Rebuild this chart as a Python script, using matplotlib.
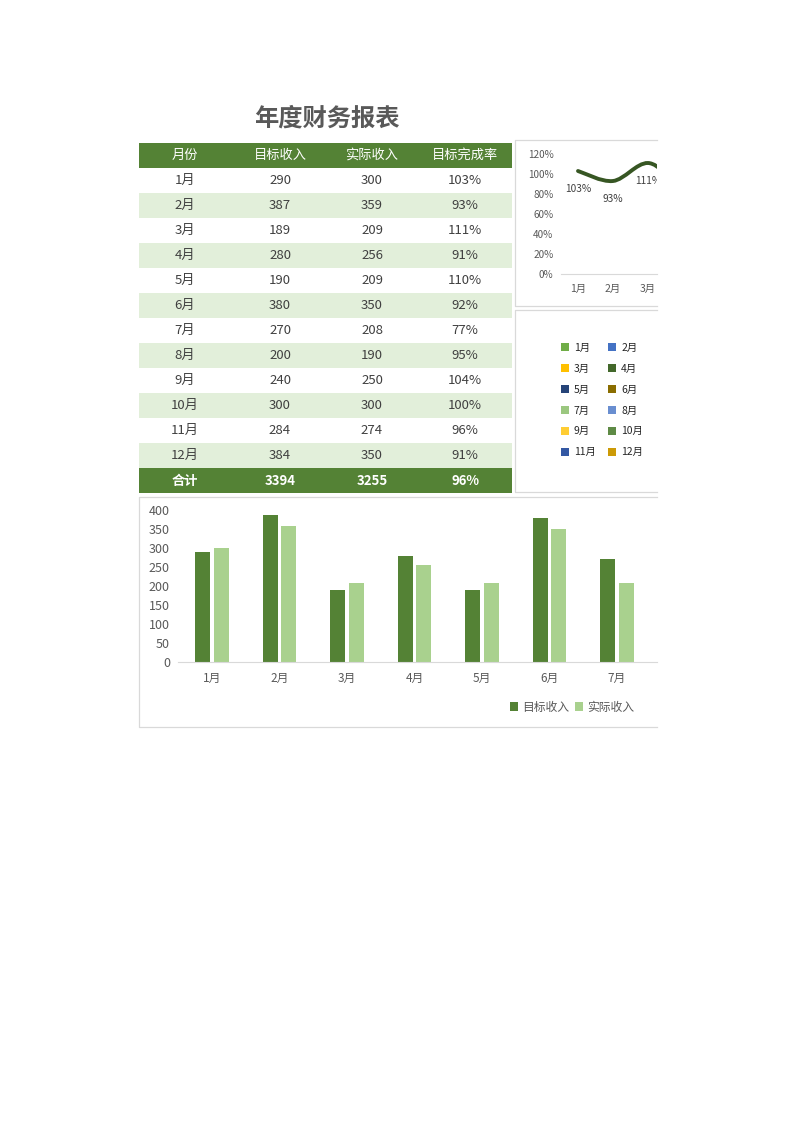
import matplotlib
matplotlib.use('Agg')
import matplotlib.pyplot as plt
from matplotlib.patches import Rectangle, Patch, PathPatch
from matplotlib.path import Path
import numpy as np

plt.rcParams['font.family'] = ['Noto Sans CJK SC', 'DejaVu Sans']

# ---------------- data ----------------
title = '年度财务报表'
header = ['月份', '目标收入', '实际收入', '目标完成率']
months = ['1月', '2月', '3月', '4月', '5月', '6月', '7月', '8月', '9月', '10月', '11月', '12月']
target = [290, 387, 189, 280, 190, 380, 270, 200, 240, 300, 284, 384]
actual = [300, 359, 209, 256, 209, 350, 208, 190, 250, 300, 274, 350]
rate = [103, 93, 111, 91, 110, 92, 77, 95, 104, 100, 96, 91]
total_label = '合计'
total_target = 3394
total_actual = 3255
total_rate = 96
pie_colors = ['#70AD47', '#4472C4', '#FFC000', '#43682B', '#264478', '#8A6D00',
              '#9BC77F', '#698ED0', '#FFCD33', '#5E8A45', '#3358A3', '#CC9A06']
bar_ticks = [0, 50, 100, 150, 200, 250, 300, 350, 400]
line_ticks = [0, 20, 40, 60, 80, 100, 120]

# ---------------- styles ----------------
DARK = '#548235'
LIGHT = '#A9D18E'
ROWFILL = '#E2EFDA'
TXT = '#404040'
AX = '#595959'
BORDER = '#D9D9D9'

W, H = 793, 1122
fig = plt.figure(figsize=(W / 100, H / 100), dpi=100)


def rect(x0, y0, x1, y1):
    return [x0 / W, 1 - y1 / H, (x1 - x0) / W, (y1 - y0) / H]


bg = fig.add_axes([0, 0, 1, 1])
bg.set_xlim(0, W)
bg.set_ylim(H, 0)
bg.axis('off')

# title
bg.text(327, 119, title, ha='center', va='center', fontsize=17.5, fontweight='bold', color=AX)

# table
tx0, tx1 = 139, 512
col_c = [185, 280, 372, 465]
row_h = 25
top = 143
bg.add_patch(Rectangle((tx0, top), tx1 - tx0, row_h, color=DARK, lw=0))
for c, h in zip(col_c, header):
    bg.text(c, top + row_h / 2, h, ha='center', va='center', fontsize=9.5, color='white')
for i, m in enumerate(months):
    y0 = top + row_h * (i + 1)
    if i % 2 == 1:
        bg.add_patch(Rectangle((tx0, y0), tx1 - tx0, row_h, color=ROWFILL, lw=0))
    vals = [m, str(target[i]), str(actual[i]), f'{rate[i]}%']
    for c, v in zip(col_c, vals):
        bg.text(c, y0 + row_h / 2, v, ha='center', va='center', fontsize=9.5, color=TXT)
y0 = top + row_h * (len(months) + 1)
bg.add_patch(Rectangle((tx0, y0), tx1 - tx0, row_h, color=DARK, lw=0))
for c, v in zip(col_c, [total_label, str(total_target), str(total_actual), f'{total_rate}%']):
    bg.text(c, y0 + row_h / 2, v, ha='center', va='center', fontsize=9.5, color='white',
            fontweight='bold')

# chart boxes (clipped at the page edge x=657)
clipx = 657
for (bx0, by0, by1) in [(515, 140, 306), (515, 310, 492), (139, 497, 727)]:
    bg.plot([clipx, bx0, bx0, clipx], [by0, by0, by1, by1], color=BORDER, lw=0.9)

# ---------------- line chart ----------------
step = 35.0
lx_left = 560.5
axl = fig.add_axes(rect(lx_left, 154, clipx, 274))
x = np.arange(len(months))
y = np.array(rate) / 100.0
# smoothed line with Bezier segments built from the data points
verts = [(x[0], y[0])]
codes = [Path.MOVETO]
n = len(x)
for i in range(n - 1):
    p0 = np.array([x[max(i - 1, 0)], y[max(i - 1, 0)]])
    p1 = np.array([x[i], y[i]])
    p2 = np.array([x[i + 1], y[i + 1]])
    p3 = np.array([x[min(i + 2, n - 1)], y[min(i + 2, n - 1)]])
    c1 = p1 + (p2 - p0) / 6.0
    c2 = p2 - (p3 - p1) / 6.0
    verts += [tuple(c1), tuple(c2), tuple(p2)]
    codes += [Path.CURVE4] * 3
axl.add_patch(PathPatch(Path(verts, codes), facecolor='none', edgecolor='#375623',
                        lw=2.8, capstyle='round'))
for xi, yi, r in zip(x, y, rate):
    axl.annotate(f'{r}%', (xi, yi), xytext=(0, -13), textcoords='offset points',
                 ha='center', va='center', fontsize=7.3, color=TXT, clip_on=True)
axl.set_yticks([t / 100 for t in line_ticks])
axl.set_yticklabels([f'{t}%' for t in line_ticks])
axl.set_xticks(x)
axl.set_xticklabels(months)
axl.set_xlim(-0.5, -0.5 + (clipx - lx_left) / step)
axl.set_ylim(0, 1.2)
axl.tick_params(axis='y', length=0, pad=5, labelsize=7.2, labelcolor=AX)
axl.tick_params(axis='x', length=0, pad=7, labelsize=7.5, labelcolor=AX)
for s in ['top', 'right', 'left']:
    axl.spines[s].set_visible(False)
axl.spines['bottom'].set_color(BORDER)
axl.patch.set_alpha(0)

# ---------------- pie legend ----------------
handles = [Patch(facecolor=c, edgecolor='none') for c in pie_colors]
order = list(range(0, 12, 2)) + list(range(1, 12, 2))
fig.legend([handles[i] for i in order], [months[i] for i in order], ncol=2,
           loc='center', bbox_to_anchor=(602 / W, 1 - 400 / H), frameon=False,
           fontsize=7.5, handlelength=0.75, handleheight=0.75, handletextpad=0.5,
           columnspacing=1.2, labelspacing=1.05, labelcolor='#262626')

# ---------------- bar chart ----------------
bstep = 67.5
bx_left = 212 - bstep / 2
axb = fig.add_axes(rect(bx_left, 510, clipx, 662))
bw = 0.222
axb.bar(x - 0.14, target, bw, color=DARK, label=header[1])
axb.bar(x + 0.14, actual, bw, color=LIGHT, label=header[2])
axb.set_xticks(x)
axb.set_xticklabels(months)
axb.set_yticks(bar_ticks)
axb.set_xlim(-0.5, -0.5 + (clipx - bx_left) / bstep)
axb.set_ylim(0, 400)
axb.tick_params(axis='y', length=0, pad=6, labelsize=9, labelcolor=AX)
axb.tick_params(axis='x', length=0, pad=7, labelsize=8.5, labelcolor=AX)
for s in ['top', 'right', 'left']:
    axb.spines[s].set_visible(False)
axb.spines['bottom'].set_color(BORDER)
axb.patch.set_alpha(0)
hb, lb = axb.get_legend_handles_labels()
fig.legend(hb, lb, ncol=2, loc='center', bbox_to_anchor=(572 / W, 1 - 707 / H),
           frameon=False, fontsize=8.5, handlelength=0.7, handleheight=0.7,
           handletextpad=0.35, columnspacing=0.5, labelcolor=AX)

fig.savefig('out.png', dpi=100, facecolor='white')
